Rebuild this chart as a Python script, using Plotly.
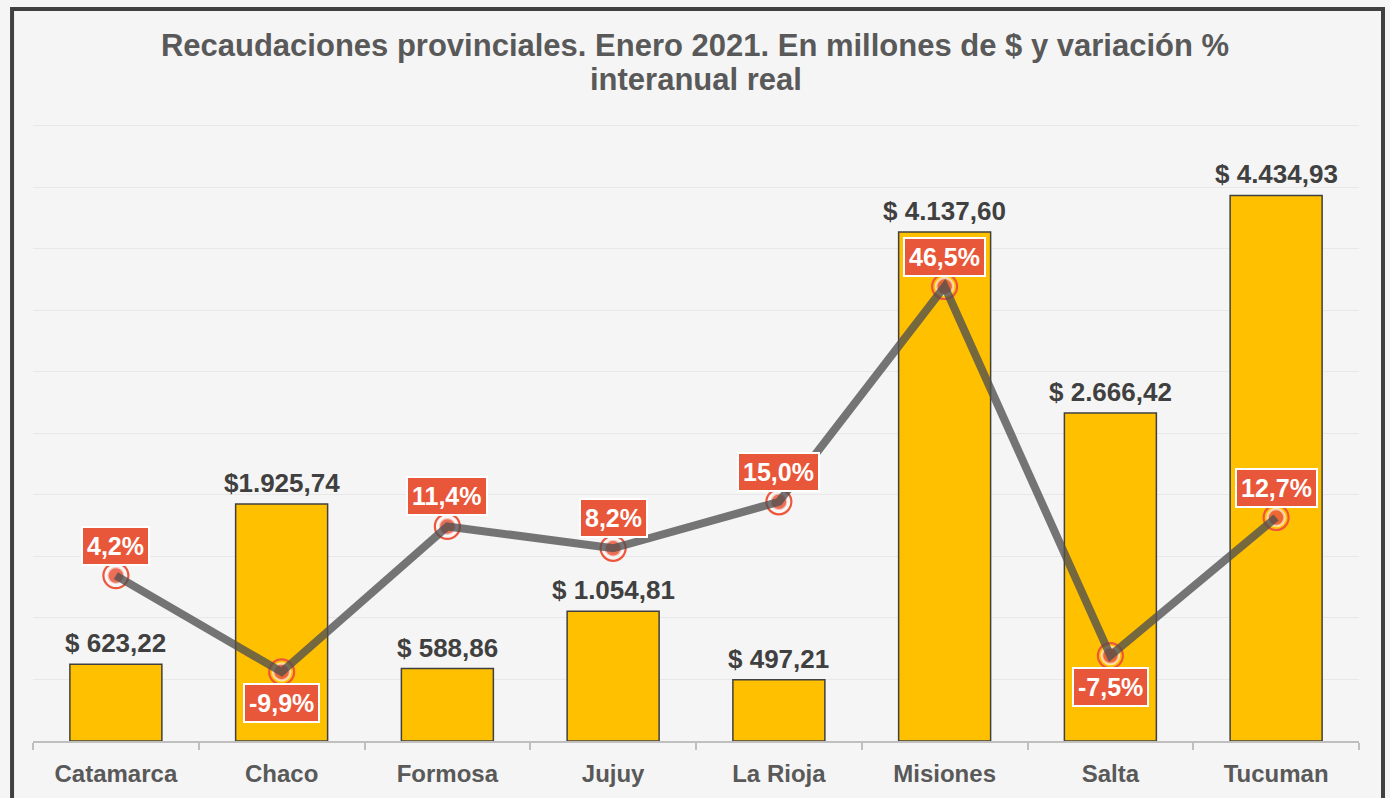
import plotly.graph_objects as go

categories = ["Catamarca", "Chaco", "Formosa", "Jujuy", "La Rioja", "Misiones", "Salta", "Tucuman"]
recaudacion = [623.22, 1925.74, 588.86, 1054.81, 497.21, 4137.60, 2666.42, 4434.93]
bar_labels = ["$ 623,22", "$1.925,74", "$ 588,86", "$ 1.054,81", "$ 497,21", "$ 4.137,60", "$ 2.666,42", "$ 4.434,93"]
variacion = [4.2, -9.9, 11.4, 8.2, 15.0, 46.5, -7.5, 12.7]
var_labels = ["4,2%", "-9,9%", "11,4%", "8,2%", "15,0%", "46,5%", "-7,5%", "12,7%"]
label_below = [False, True, False, False, False, False, True, False]
title_line1 = "Recaudaciones provinciales. Enero 2021. En millones de $ y variación %"
title_line2 = "interanual real"

RED = "#E9573A"
BG = "#F5F5F5"
FONT = "Liberation Sans, Arial, sans-serif"
H = 798
T, B = 121, 57
PH = H - T - B

fig = go.Figure()
fig.add_trace(go.Bar(
    x=categories, y=recaudacion,
    marker=dict(color="#FFC000", line=dict(color="#404040", width=1.5)),
    hoverinfo="skip", showlegend=False,
))
# marker rings
fig.add_trace(go.Scatter(
    x=categories, y=variacion, yaxis="y2", mode="markers",
    marker=dict(symbol="circle-open", size=25, line=dict(color=RED, width=2.2)),
    hoverinfo="skip", showlegend=False,
))
fig.add_trace(go.Scatter(
    x=categories, y=variacion, yaxis="y2", mode="markers",
    marker=dict(symbol="circle", size=17, color="rgba(233,87,58,0.85)",
                line=dict(color="rgba(255,255,255,0.6)", width=2.5)),
    hoverinfo="skip", showlegend=False,
))
fig.add_trace(go.Scatter(
    x=categories, y=variacion, yaxis="y2", mode="lines",
    line=dict(color="rgba(80,80,80,0.78)", width=8),
    hoverinfo="skip", showlegend=False,
))

annotations = []
for c, v, t in zip(categories, recaudacion, bar_labels):
    annotations.append(dict(
        x=c, y=v, xref="x", yref="y", text=t, showarrow=False,
        yanchor="bottom", yshift=4,
        font=dict(family=FONT, size=26, color="#404040", weight="bold"),
    ))
for c, v, t, below in zip(categories, variacion, var_labels, label_below):
    annotations.append(dict(
        x=c, y=v, xref="x", yref="y2", text=t, showarrow=False,
        yanchor="middle", yshift=-31 if below else 30,
        font=dict(family=FONT, size=25, color="white", weight="bold"),
        bgcolor=RED, bordercolor="white", borderwidth=2, borderpad=4,
    ))
annotations.append(dict(
    x=0.5, y=(H - B - 80) / PH, xref="paper", yref="paper", text=title_line2, showarrow=False,
    xanchor="center", yanchor="middle",
    font=dict(family=FONT, size=31, color="#595959", weight="bold"),
))

fig.update_layout(
    width=1390, height=H,
    paper_bgcolor=BG, plot_bgcolor=BG,
    margin=dict(l=33, r=31, t=T, b=B),
    title=dict(
        text=title_line1,
        x=0.5, xanchor="center", y=1 - 45 / H, yanchor="middle", yref="container",
        font=dict(family=FONT, size=31, color="#595959", weight="bold"),
    ),
    bargap=0.445,
    xaxis=dict(
        showgrid=False, showline=True, linecolor="#BFBFBF", linewidth=2,
        ticks="outside", tickson="boundaries", ticklen=7, tickcolor="#BFBFBF", tickwidth=2,
        ticklabelstandoff=10,
        tickfont=dict(family=FONT, size=24, color="#595959", weight="bold"),
        fixedrange=True,
    ),
    yaxis=dict(
        range=[0, 5040], dtick=500, showgrid=True, gridcolor="#E8E8E8", gridwidth=1,
        showticklabels=False, zeroline=False, showline=False,
    ),
    yaxis2=dict(
        range=[-20, 70.72], overlaying="y", side="right", showgrid=False,
        showticklabels=False, zeroline=False, showline=False,
    ),
    annotations=annotations,
    shapes=[dict(
        type="rect", xref="paper", yref="paper",
        x0=-0.0158, x1=1.0181, y0=-0.1, y1=(H - B - 9) / PH,
        line=dict(color="#404040", width=4), fillcolor="rgba(0,0,0,0)", layer="above",
    )],
)

fig.write_html(
    "out.html",
    config={"displayModeBar": False},
    post_script="document.body.style.margin='0px';document.body.style.background='#F5F5F5';",
)
